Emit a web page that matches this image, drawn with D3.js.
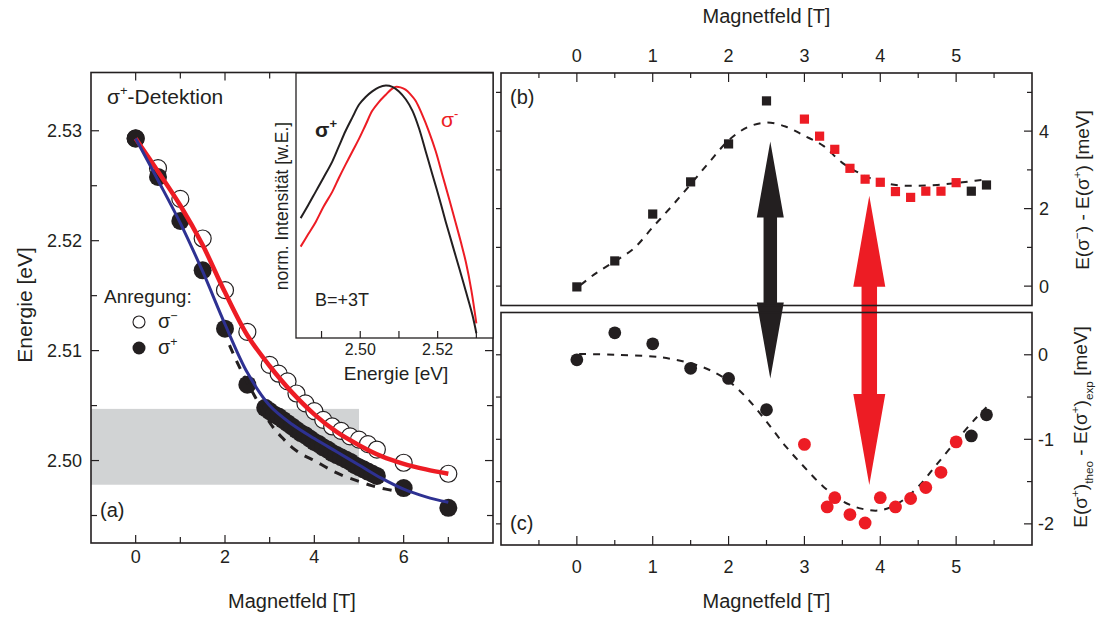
<!DOCTYPE html>
<html><head><meta charset="utf-8">
<script src="https://cdn.jsdelivr.net/npm/d3@7"></script>
<style>
body{margin:0;background:#fff}
text{font-family:Arial,"Liberation Sans",Helvetica,sans-serif;fill:#231f20}
</style>
</head><body>
<svg id="chart" width="1099" height="619"></svg>
<script>
// ---------------- DATA ----------------
// Panel (a): energy vs magnetic field
const aOpenT = [0,0.5,1,1.5,2,2.5,3,3.2,3.4,3.6,3.8,4,4.2,4.4,4.6,4.8,5,5.2,5.4,6,7];
const aOpenE = [2.5293,2.5266,2.5238,2.5202,2.5155,2.5117,2.5087,2.5079,2.5072,2.5061,2.5052,2.5045,2.5037,2.5031,2.5027,2.5022,2.5019,2.5015,2.5010,2.4998,2.4988];
const aFillT = [0,0.5,1,1.5,2,2.5,2.9,3.0,3.1,3.2,3.3,3.4,3.5,3.6,3.7,3.8,3.9,4.0,4.1,4.2,4.3,4.4,4.5,4.6,4.7,4.8,4.9,5.0,5.1,5.2,5.3,5.4,6,7];
const aFillE = [2.5293,2.5258,2.5218,2.5173,2.5120,2.5069,2.5048,2.5045,2.5042,2.5040,2.5037,2.5034,2.5031,2.5028,2.5025,2.5023,2.5020,2.5017,2.5015,2.5012,2.5010,2.5007,2.5005,2.5003,2.5001,2.4999,2.4996,2.4994,2.4992,2.4990,2.4988,2.4986,2.4975,2.4957];
const aFitT  = [0,0.5,1,1.5,2,2.5,3,3.5,4,4.5,5,5.5,6,6.5,7];
const aRedE  = [2.5293,2.5263,2.5232,2.5196,2.5153,2.5114,2.5086,2.5062,2.5042,2.5026,2.5014,2.5004,2.4997,2.4992,2.4988];
const aBlueE = [2.5293,2.5255,2.5216,2.5172,2.5124,2.5080,2.5050,2.5033,2.5020,2.5008,2.4996,2.4984,2.4974,2.4967,2.4962];
const aDashT = [2.1,2.3,2.5,2.7,2.9,3.1,3.3,3.5,3.75,4,4.3,4.6,5,5.3,5.6,6];
const aDashE = [2.5105,2.5087,2.5071,2.5056,2.5041,2.5029,2.5020,2.5012,2.5005,2.5000,2.4993,2.4987,2.4981,2.4977,2.4974,2.4971];
const aBand  = [2.4978, 2.5047];          // grey energy window
const aBandT = [-1, 5.0];
const aXTicks = [0,2,4,6], aXMinor = [1,3,5,7];
const aYTicks = [2.50,2.51,2.52,2.53], aYMinor = [2.495,2.505,2.515,2.525];

// Inset spectra (B = +3T)
const inE_plus  = [2.4846,2.4865,2.4885,2.4905,2.4928,2.4945,2.4962,2.4980,2.4997,2.5014,2.5031,2.5048,2.5066,2.5083,2.5100,2.5118,2.5135,2.5152,2.5169,2.5186,2.5204,2.5221,2.5238,2.5256,2.5273,2.5290,2.5300];
const inI_plus  = [0.475,0.525,0.58,0.635,0.70,0.76,0.82,0.875,0.925,0.955,0.977,0.993,1.0,0.995,0.977,0.945,0.90,0.83,0.74,0.65,0.555,0.46,0.37,0.275,0.184,0.09,0.019];
const inE_minus = [2.4846,2.4865,2.4885,2.4905,2.4928,2.4945,2.4962,2.4980,2.4997,2.5014,2.5031,2.5048,2.5066,2.5080,2.5091,2.5104,2.5117,2.5130,2.5143,2.5160,2.5177,2.5195,2.5212,2.5229,2.5246,2.5260,2.5273,2.5287,2.5300];
const inI_minus = [0.362,0.41,0.46,0.52,0.58,0.635,0.687,0.74,0.79,0.845,0.90,0.935,0.964,0.985,0.995,0.993,0.984,0.965,0.94,0.885,0.82,0.74,0.647,0.555,0.46,0.38,0.30,0.19,0.058];
const inXTicks = [2.50,2.52], inXMinor = [2.49,2.51,2.53];

// Panel (b): E(s-) - E(s+) [meV]
const bT = [0,0.5,1,1.5,2,2.5,3,3.2,3.4,3.6,3.8,4,4.2,4.4,4.6,4.8,5,5.2,5.4];
const bV = [-0.02,0.65,1.86,2.69,3.67,4.78,4.31,3.87,3.53,3.04,2.76,2.68,2.44,2.29,2.45,2.45,2.67,2.45,2.61];
const bRed = [0,0,0,0,0,0,1,1,1,1,1,1,1,1,1,1,1,0,0];
const bFitT = [0.05,0.25,0.5,0.75,1,1.25,1.5,1.75,2,2.25,2.5,2.75,3,3.25,3.5,3.75,4,4.25,4.5,4.75,5,5.25,5.4];
const bFitV = [0.03,0.33,0.64,0.97,1.52,2.06,2.63,3.21,3.76,4.10,4.22,4.12,3.88,3.62,3.18,2.89,2.69,2.60,2.59,2.61,2.66,2.72,2.75];

// Panel (c): E(s+)theo - E(s+)exp [meV]
const cT = [0,0.5,1,1.5,2,2.5,3,3.3,3.4,3.6,3.8,4,4.2,4.4,4.6,4.8,5,5.2,5.4];
const cV = [-0.06,0.26,0.13,-0.16,-0.28,-0.65,-1.06,-1.80,-1.69,-1.89,-1.99,-1.69,-1.80,-1.70,-1.57,-1.39,-1.03,-0.96,-0.71];
const cRed = [0,0,0,0,0,0,1,1,1,1,1,1,1,1,1,1,1,0,0];
const cFitT = [0.03,0.5,1,1.25,1.5,1.75,2,2.25,2.5,2.75,3,3.25,3.5,3.75,4,4.25,4.5,4.75,5,5.25,5.4];
const cFitV = [0.01,0.0,-0.02,-0.05,-0.10,-0.18,-0.31,-0.52,-0.79,-1.08,-1.33,-1.56,-1.73,-1.82,-1.84,-1.75,-1.56,-1.29,-1.02,-0.76,-0.62];

const rXTicks = [0,1,2,3,4,5], rXMinor = [-0.5,0.5,1.5,2.5,3.5,4.5,5.5];
const bYTicks = [0,2,4], bYMinor = [1,3,5];
const cYTicks = [0,-1,-2], cYMinor = [-0.5,-1.5];

// Double arrows spanning (b)->(c): field, top value in (b), bottom value in (c)
const arrowT   = [2.55, 3.855];
const arrowTop = [3.73, 2.33];
const arrowBot = [-0.28, -1.54];
const arrowCol = ['black','red'];

// ---------------- DRAW ----------------
const INK = '#231f20', RED = '#ed1c24', BLUE = '#2e3192', GRAY = '#d1d3d4';
const svg = d3.select('#chart');

const xA = d3.scaleLinear([-1, 8], [91, 493]);
const yA = d3.scaleLinear([2.4925, 2.5353], [543, 72.5]);
const xI = d3.scaleLinear([2.4834, 2.5343], [296, 493]);
const yI = d3.scaleLinear([0, 1.05], [338, 73]);
const xR = d3.scaleLinear([-1, 6], [501, 1032]);
const yB = d3.scaleLinear([-0.5, 5.5], [305.5, 73]);
const yC = d3.scaleLinear([-2.25, 0.5], [545, 312.5]);

function xTicks(g, sc, vals, y, len) {
  g.selectAll(null).data(vals).join('line')
    .attr('x1', d => sc(d)).attr('x2', d => sc(d)).attr('y1', y).attr('y2', y + len)
    .attr('stroke', INK).attr('stroke-width', 1.2);
}
function yTicks(g, sc, vals, x, len) {
  g.selectAll(null).data(vals).join('line')
    .attr('y1', d => sc(d)).attr('y2', d => sc(d)).attr('x1', x).attr('x2', x + len)
    .attr('stroke', INK).attr('stroke-width', 1.2);
}
function rich(t, parts, fs) {
  let cur = 0;
  parts.forEach(([s, k]) => {
    const target = k === 'sup' ? -0.42 * fs : (k === 'sub' ? 0.3 * fs : 0);
    t.append('tspan').attr('dy', target - cur).attr('font-size', k === 'n' ? fs : fs * 0.62).text(s);
    cur = target;
  });
  return t;
}

// ===== Panel (a) =====
const gA = svg.append('g');
gA.append('rect').attr('x', xA(aBandT[0])).attr('width', xA(aBandT[1]) - xA(aBandT[0]))
  .attr('y', yA(aBand[1])).attr('height', yA(aBand[0]) - yA(aBand[1])).attr('fill', GRAY);

const lineA = (T, E) => d3.line().curve(d3.curveCatmullRom.alpha(0.5)).x((d, i) => xA(T[i])).y((d, i) => yA(E[i]))(T);

gA.selectAll('.op').data(aOpenT).join('circle').attr('class', 'op')
  .attr('cx', d => xA(d)).attr('cy', (d, i) => yA(aOpenE[i])).attr('r', 8.5)
  .attr('fill', '#fff').attr('stroke', INK).attr('stroke-width', 1.2);
gA.selectAll('.fp').data(aFillT).join('circle').attr('class', 'fp')
  .attr('cx', d => xA(d)).attr('cy', (d, i) => yA(aFillE[i])).attr('r', 9)
  .attr('fill', INK);
gA.append('path').attr('d', lineA(aDashT, aDashE)).attr('fill', 'none')
  .attr('stroke', INK).attr('stroke-width', 3).attr('stroke-dasharray', '9,8');
gA.append('path').attr('d', lineA(aFitT, aRedE)).attr('fill', 'none')
  .attr('stroke', RED).attr('stroke-width', 4.5);
gA.append('path').attr('d', lineA(aFitT, aBlueE)).attr('fill', 'none')
  .attr('stroke', BLUE).attr('stroke-width', 3);

// ticks (a)
xTicks(gA, xA, aXTicks, 543, -8); xTicks(gA, xA, aXMinor, 543, -6);
xTicks(gA, xA, aXTicks, 72.5, 8); xTicks(gA, xA, aXMinor, 72.5, 6);
yTicks(gA, yA, aYTicks, 91, 8); yTicks(gA, yA, aYMinor, 91, 6);
yTicks(gA, yA, aYTicks, 493, -8); yTicks(gA, yA, aYMinor, 493, -6);

gA.selectAll('.xl').data(aXTicks).join('text').attr('x', d => xA(d)).attr('y', 563)
  .attr('text-anchor', 'middle').attr('font-size', 18).text(d => d);
gA.selectAll('.yl').data(aYTicks).join('text').attr('x', 82).attr('y', d => yA(d) + 6.5)
  .attr('text-anchor', 'end').attr('font-size', 18).text(d => d.toFixed(2));
gA.append('text').attr('x', (91 + 493) / 2).attr('y', 608).attr('text-anchor', 'middle')
  .attr('font-size', 20).text('Magnetfeld [T]');
gA.append('text').attr('transform', 'translate(32,305) rotate(-90)').attr('text-anchor', 'middle')
  .attr('font-size', 21).text('Energie [eV]');

rich(gA.append('text').attr('x', 107).attr('y', 104), [['σ', 'n'], ['+', 'sup'], ['-Detektion', 'n']], 21);
gA.append('text').attr('x', 104).attr('y', 303).attr('font-size', 19).text('Anregung:');
gA.append('circle').attr('cx', 139).attr('cy', 322).attr('r', 6).attr('fill', '#fff').attr('stroke', INK).attr('stroke-width', 1.1);
gA.append('circle').attr('cx', 139).attr('cy', 348).attr('r', 6.5).attr('fill', INK);
rich(gA.append('text').attr('x', 158).attr('y', 328), [['σ', 'n'], ['−', 'sup']], 20);
rich(gA.append('text').attr('x', 158).attr('y', 354), [['σ', 'n'], ['+', 'sup']], 20);
gA.append('text').attr('x', 100).attr('y', 517).attr('font-size', 20).text('(a)');

// ===== Inset =====
const gI = svg.append('g');
gI.append('rect').attr('x', 296).attr('y', 73).attr('width', 493 - 296).attr('height', 338 - 73)
  .attr('fill', '#fff').attr('stroke', INK).attr('stroke-width', 1.3);
const lineI = (E, I) => d3.line().curve(d3.curveCatmullRom.alpha(0.5)).x((d, i) => xI(E[i])).y((d, i) => yI(I[i]))(E);
gI.append('path').attr('d', lineI(inE_minus, inI_minus)).attr('fill', 'none').attr('stroke', RED).attr('stroke-width', 2);
gI.append('path').attr('d', lineI(inE_plus, inI_plus)).attr('fill', 'none').attr('stroke', INK).attr('stroke-width', 2);
xTicks(gI, xI, inXTicks, 338, -7); xTicks(gI, xI, inXMinor, 338, -7);
gI.selectAll('.il').data(inXTicks).join('text').attr('x', d => xI(d)).attr('y', 355)
  .attr('text-anchor', 'middle').attr('font-size', 16).text(d => d.toFixed(2));
gI.append('text').attr('x', 396).attr('y', 380).attr('text-anchor', 'middle').attr('font-size', 19).text('Energie [eV]');
gI.append('text').attr('transform', 'translate(288,206) rotate(-90)').attr('text-anchor', 'middle')
  .attr('font-size', 17.5).text('norm. Intensität [w.E.]');
rich(gI.append('text').attr('x', 315).attr('y', 137).attr('font-weight', 'bold'), [['σ', 'n'], ['+', 'sup']], 21);
rich(gI.append('text').attr('x', 441).attr('y', 127).style('fill', RED), [['σ', 'n'], ['-', 'sup']], 21);
gI.append('text').attr('x', 315).attr('y', 306).attr('font-size', 18).text('B=+3T');

// frame (a)
gA.append('rect').attr('x', 91).attr('y', 72.5).attr('width', 493 - 91).attr('height', 543 - 72.5)
  .attr('fill', 'none').attr('stroke', INK).attr('stroke-width', 1.6);

// ===== Panels (b), (c) =====
const gR = svg.append('g');
const lineB = d3.line().curve(d3.curveCatmullRom.alpha(0.5)).x((d, i) => xR(bFitT[i])).y((d, i) => yB(bFitV[i]));
const lineC = d3.line().curve(d3.curveCatmullRom.alpha(0.5)).x((d, i) => xR(cFitT[i])).y((d, i) => yC(cFitV[i]));
gR.append('path').attr('d', lineB(bFitT)).attr('fill', 'none').attr('stroke', INK).attr('stroke-width', 2).attr('stroke-dasharray', '7,7');
gR.append('path').attr('d', lineC(cFitT)).attr('fill', 'none').attr('stroke', INK).attr('stroke-width', 2).attr('stroke-dasharray', '7,7');

gR.selectAll('.sq').data(bT).join('rect').attr('class', 'sq')
  .attr('x', d => xR(d) - 4.6).attr('y', (d, i) => yB(bV[i]) - 4.6).attr('width', 9.2).attr('height', 9.2)
  .attr('fill', (d, i) => bRed[i] ? RED : INK);
gR.selectAll('.ci').data(cT).join('circle').attr('class', 'ci')
  .attr('cx', d => xR(d)).attr('cy', (d, i) => yC(cV[i])).attr('r', 6.4)
  .attr('fill', (d, i) => cRed[i] ? RED : INK);

// arrows
arrowT.forEach((t, k) => {
  const x = xR(t), y1 = yB(arrowTop[k]), y2 = yC(arrowBot[k]);
  const hw = k === 0 ? 27 : 32, hl = k === 0 ? 76 : 91, sw = k === 0 ? 13.5 : 15.5;
  const p = [[x, y1], [x + hw / 2, y1 + hl], [x + sw / 2, y1 + hl], [x + sw / 2, y2 - hl], [x + hw / 2, y2 - hl],
             [x, y2], [x - hw / 2, y2 - hl], [x - sw / 2, y2 - hl], [x - sw / 2, y1 + hl], [x - hw / 2, y1 + hl]];
  gR.append('path').attr('d', 'M' + p.map(q => q.join(',')).join('L') + 'Z')
    .attr('fill', arrowCol[k] === 'red' ? RED : INK);
});

// ticks (b)
xTicks(gR, xR, rXTicks, 73, 9); xTicks(gR, xR, rXMinor, 73, 5);
yTicks(gR, yB, bYTicks, 1032, -8); yTicks(gR, yB, bYMinor, 1032, -5);
yTicks(gR, yB, bYTicks.concat(bYMinor), 501, -5);
// ticks (c)
xTicks(gR, xR, rXTicks, 545, -9); xTicks(gR, xR, rXMinor, 545, -5);
yTicks(gR, yC, cYTicks, 1032, -8); yTicks(gR, yC, cYMinor, 1032, -5);
yTicks(gR, yC, cYTicks.concat(cYMinor), 501, -5);

gR.append('rect').attr('x', 501).attr('y', 73).attr('width', 1032 - 501).attr('height', 305.5 - 73)
  .attr('fill', 'none').attr('stroke', INK).attr('stroke-width', 1.6);
gR.append('rect').attr('x', 501).attr('y', 312.5).attr('width', 1032 - 501).attr('height', 545 - 312.5)
  .attr('fill', 'none').attr('stroke', INK).attr('stroke-width', 1.6);

gR.selectAll('.tl').data(rXTicks).join('text').attr('x', d => xR(d)).attr('y', 62)
  .attr('text-anchor', 'middle').attr('font-size', 18).text(d => d);
gR.selectAll('.bl').data(rXTicks).join('text').attr('x', d => xR(d)).attr('y', 573)
  .attr('text-anchor', 'middle').attr('font-size', 18).text(d => d);
gR.selectAll('.byl').data(bYTicks).join('text').attr('x', 1039).attr('y', d => yB(d) + 6.5)
  .attr('font-size', 18).text(d => d);
gR.selectAll('.cyl').data(cYTicks).join('text').attr('x', 1038).attr('y', d => yC(d) + 6.5)
  .attr('font-size', 18).text(d => d === 0 ? '0' : '-' + Math.abs(d));
gR.append('text').attr('x', 766.5).attr('y', 23).attr('text-anchor', 'middle').attr('font-size', 20).text('Magnetfeld [T]');
gR.append('text').attr('x', 766.5).attr('y', 608).attr('text-anchor', 'middle').attr('font-size', 20).text('Magnetfeld [T]');
gR.append('text').attr('x', 510).attr('y', 104).attr('font-size', 20).text('(b)');
gR.append('text').attr('x', 510).attr('y', 530).attr('font-size', 20).text('(c)');

rich(gR.append('text').attr('transform', 'translate(1089,190) rotate(-90)').attr('text-anchor', 'middle'),
  [['E(σ', 'n'], ['−', 'sup'], [') - E(σ', 'n'], ['+', 'sup'], [') [meV]', 'n']], 19);
rich(gR.append('text').attr('transform', 'translate(1087,427) rotate(-90)').attr('text-anchor', 'middle'),
  [['E(σ', 'n'], ['+', 'sup'], [')', 'n'], ['theo', 'sub'], [' - E(σ', 'n'], ['+', 'sup'], [')', 'n'], ['exp', 'sub'], [' [meV]', 'n']], 19);
</script>
</body></html>
